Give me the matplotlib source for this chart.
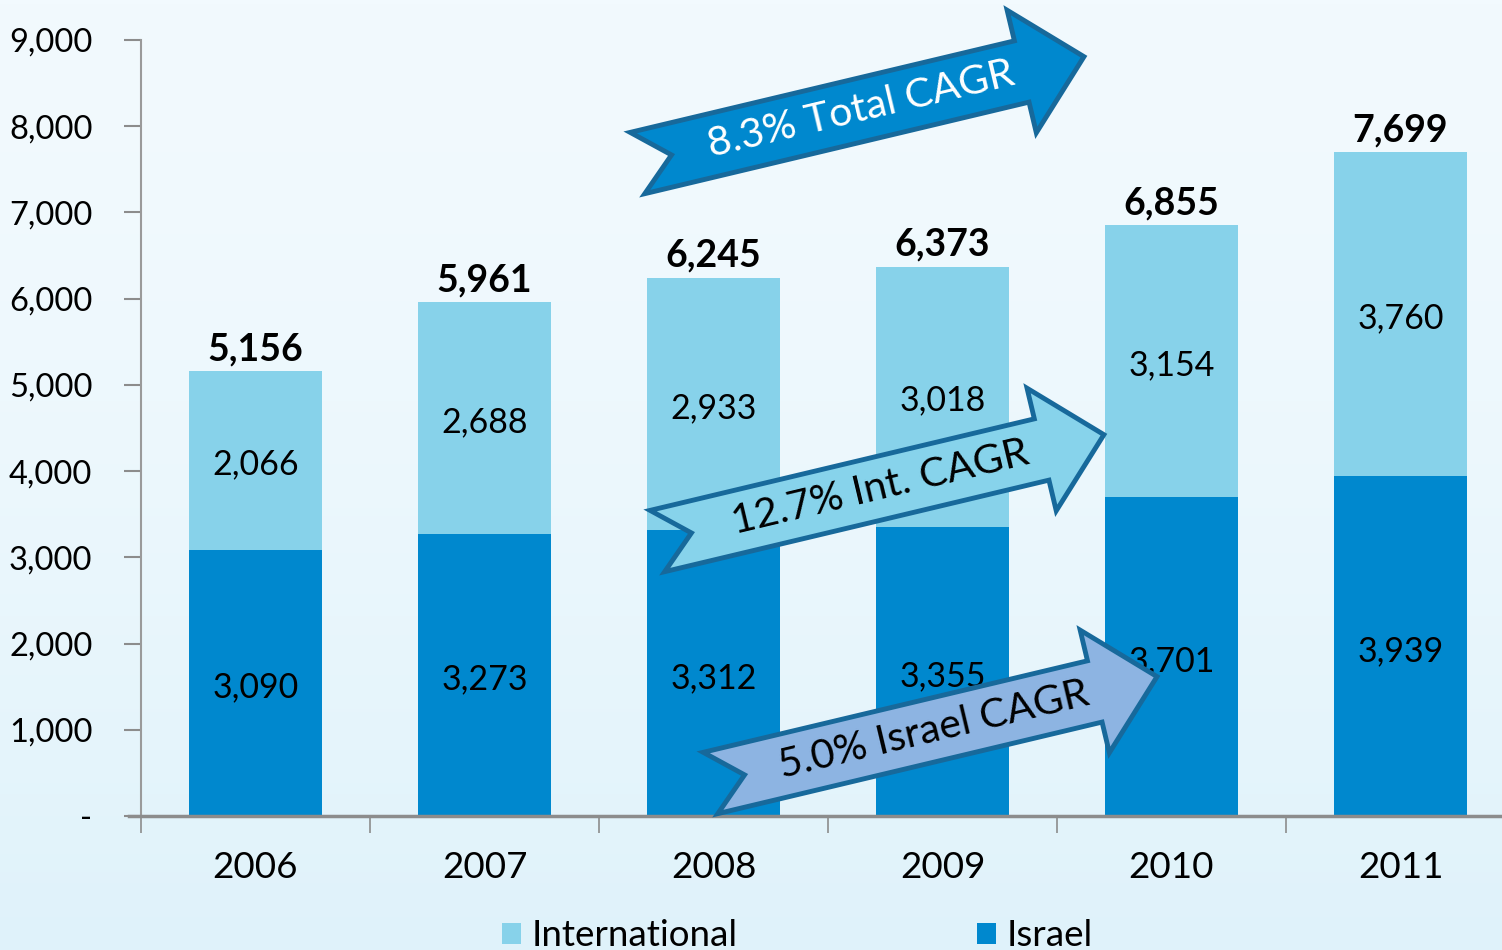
import numpy as np
import matplotlib
matplotlib.use("Agg")
import matplotlib.pyplot as plt
from matplotlib.patches import Polygon, Patch

# --- data ---
years = ["2006", "2007", "2008", "2009", "2010", "2011"]
israel = [3090, 3273, 3312, 3355, 3701, 3939]
international = [2066, 2688, 2933, 3018, 3154, 3760]
totals = [5156, 5961, 6245, 6373, 6855, 7699]
y_ticks = [0, 1000, 2000, 3000, 4000, 5000, 6000, 7000, 8000, 9000]
y_tick_labels = ["-", "1,000", "2,000", "3,000", "4,000", "5,000",
                 "6,000", "7,000", "8,000", "9,000"]

# arrow callouts: text, tail position (category, value), fill, text colour
arrow_texts = ["8.3% Total CAGR", "12.7% Int. CAGR", "5.0% Israel CAGR"]
arrow_tails = [(1.668, 7573), (1.755, 3189), (1.987, 383)]
arrow_fill = ["#0088CE", "#87D3EB", "#8DB4E2"]
arrow_text_color = ["white", "black", "black"]

c_israel = "#0088CE"
c_int = "#87D2EA"
edge_dark = "#17699B"

plt.rcParams['font.family'] = ['Lato', 'DejaVu Sans']

W, H = 1502, 950
fig = plt.figure(figsize=(W / 100, H / 100), dpi=100)

# background gradient
bg = fig.add_axes([0, 0, 1, 1], zorder=-10)
t = np.linspace(0, 1, 256)[:, None]
top = np.array([0xF2, 0xFA, 0xFE]) / 255
bot = np.array([0xDF, 0xF2, 0xFA]) / 255
grad = top + (bot - top) * (t ** 1.6)[:, :, None] * np.ones((1, 2, 1))
bg.imshow(grad, aspect='auto', extent=[0, 1, 0, 1], origin='upper')
bg.axis('off')

ax = fig.add_axes([141 / W, 1 - 816 / H, 1374 / W, 776 / H])
ax.patch.set_alpha(0)

x = np.arange(len(years))
bw = 0.585
ax.bar(x, israel, width=bw, color=c_israel, zorder=2)
ax.bar(x, international, width=bw, bottom=israel, color=c_int, zorder=2)

ax.set_xlim(-0.5, len(years) - 0.5)
ax.set_ylim(0, 9000)

for i in range(len(years)):
    ax.text(x[i], israel[i] / 2 - 55, f"{israel[i]:,}", ha='center', va='center',
            fontsize=24.5, color='black', zorder=4)
    ax.text(x[i], israel[i] + international[i] / 2 - 45, f"{international[i]:,}",
            ha='center', va='center', fontsize=24.5, color='black', zorder=4)
    ax.text(x[i], totals[i] + 55, f"{totals[i]:,}", ha='center', va='bottom',
            fontsize=27, fontweight='bold', color='black', zorder=4)

# axes styling
ax.set_yticks(y_ticks)
ax.set_yticklabels(y_tick_labels, fontsize=23.5)
ax.set_xticks(np.arange(-0.5, len(years), 1.0))
ax.set_xticklabels([])
ax.set_xticks(x, minor=True)
ax.set_xticklabels(years, minor=True, fontsize=26.5)
ax.tick_params(axis='x', which='minor', length=0, pad=25)
ax.tick_params(axis='x', which='major', direction='out', length=12,
               width=1.2, color='#8C8C8C')
ax.tick_params(axis='y', direction='out', length=12, width=1.5,
               color='#8C8C8C', pad=23)
ax.spines['top'].set_visible(False)
ax.spines['right'].set_visible(False)
ax.spines['left'].set_color('#9A9A9A')
ax.spines['left'].set_linewidth(1.5)
ax.spines['bottom'].set_color('#8C8C8C')
ax.spines['bottom'].set_linewidth(2.5)
ax.spines['bottom'].set_bounds(-0.5 - 12 / 229, len(years) - 0.5)


def notched_arrow(tail, text, fc, tc):
    # tail midpoint in data coords, rest of shape in pixels
    tx, ty = ax.transData.transform(tail)
    ang = np.deg2rad(13.4)
    L, hw, HW, HL, N = 459, 31.5, 63, 64, 35
    local = [(0, hw), (L - HL, hw), (L - HL, HW), (L, 0),
             (L - HL, -HW), (L - HL, -hw), (0, -hw), (N, 0)]
    pts = []
    for u, v in local:
        px = tx + u * np.cos(ang) - v * np.sin(ang)
        py = ty + u * np.sin(ang) + v * np.cos(ang)
        pts.append((px / W, py / H))
    poly = Polygon(pts, closed=True, facecolor=fc, edgecolor=edge_dark,
                   linewidth=3.5, joinstyle='miter', transform=fig.transFigure,
                   zorder=6, clip_on=False)
    ax.add_patch(poly)
    cx = tx + (L / 2) * np.cos(ang)
    cy = ty + (L / 2) * np.sin(ang)
    ax.text(cx / W, cy / H, text, transform=fig.transFigure, rotation=13.4,
            rotation_mode='anchor', ha='center', va='center', fontsize=29.5,
            color=tc, zorder=7)


for tail, txt, fc, tc in zip(arrow_tails, arrow_texts, arrow_fill, arrow_text_color):
    notched_arrow(tail, txt, fc, tc)

handles = [Patch(facecolor=c_int), Patch(facecolor=c_israel)]
fig.legend(handles, ["International", "Israel"], loc='upper center',
           bbox_to_anchor=(0.531, 1 - 886 / H), ncol=2, frameon=False,
           fontsize=26.5, handlelength=0.5, handleheight=0.5,
           handletextpad=0.3, columnspacing=6.5)

fig.savefig("out.png", dpi=100)
